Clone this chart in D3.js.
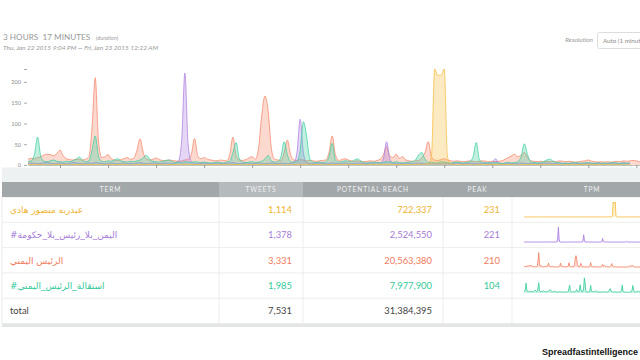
<!DOCTYPE html>
<html>
<head>
<meta charset="utf-8">
<script src="https://cdn.jsdelivr.net/npm/d3@7"></script>
<style>
html, body { margin: 0; padding: 0; background: #fff; }
svg { display: block; font-family: Lato, "Open Sans", "DejaVu Sans", sans-serif; }
</style>
</head>
<body>
<svg id="board" width="640" height="360"></svg>
<script>
// tweets per minute, one value per minute from 9:04 PM (index 0) to 12:22 AM (index 198)
const yellowTpm = [
 1,1,2,1,1,1,0,1,1,2, 1,1,1,0,1,1,1,2,1,1, 1,1,1,1,0,1,1,1,1,2,
 1,1,0,1,1,1,1,1,2,1, 1,1,1,0,1,1,1,1,1,1, 2,1,1,1,1,0,1,1,1,1,
 1,1,2,1,1,1,1,0,1,1, 1,1,1,1,2,1,1,1,1,1, 0,1,1,1,1,1,1,2,1,1,
 1,1,1,0,1,1,1,1,1,1, 2,1,1,1,1,1,0,1,1,1, 1,1,1,2,1,1,1,1,1,1,
 1,1,2,1,2,4,20,231,216,216, 231,20,3,1,1,1,1,1,1,0, 1,1,1,1,1,1,2,1,1,1,
 1,1,1,0,1,1,1,1,1,1, 1,2,1,1,1,1,1,0,1,1, 1,1,1,1,1,2,1,1,1,1,
 1,1,1,1,1,1,0,1,1
];
const purpleTpm = [
 4,5,4,3,4,5,6,4,3,4, 5,4,3,4,6,5,4,3,4,5, 4,6,5,4,3,4,5,4,3,4,
 5,4,4,3,5,6,4,3,4,5, 4,3,4,5,4,3,5,10,60,221, 50,8,4,3,4,5,4,3,4,5,
 4,3,4,5,6,4,3,4,5,4, 3,4,5,4,3,4,5,4,3,5, 4,3,4,6,30,110,30,6,4,3,
 4,5,4,3,4,5,4,3,4,5, 4,3,4,5,4,3,4,5,4,6, 4,15,56,14,5,4,3,4,5,4,
 3,4,5,4,3,4,5,4,3,4, 5,4,3,4,5,4,3,4,5,4, 3,4,5,4,3,6,15,5,3,4,
 5,4,3,4,5,4,3,4,5,4, 3,4,5,4,3,4,5,4,3,4, 5,4,3,4,5,4,3,4,5,4,
 3,4,5,4,3,4,5,4,4
];
const salmonTpm = [
 14,16,15,18,20,24,26,25,22,28, 36,22,15,13,12,14,13,12,14,20, 90,210,60,18,20,25,15,12,11,13,
 15,18,14,16,35,63,30,14,12,14, 17,13,11,10,12,11,10,9,10,12, 14,25,64,22,15,18,14,12,11,10,
 12,11,10,25,67,22,12,11,13,17, 20,14,40,120,166,130,40,14,12,11, 30,60,25,12,11,13,12,10,11,10,
 9,10,11,12,30,70,25,11,13,15, 12,10,9,10,9,8,9,10,9,11, 14,25,45,22,18,26,16,20,12,10,
 9,10,11,18,30,56,20,12,11,13, 15,12,10,9,10,9,8,9,10,9, 8,9,10,9,8,9,8,9,10,14,
 18,22,26,20,24,30,18,10,9,8, 9,8,9,8,9,8,10,9,8,9, 8,7,8,9,10,12,9,8,7,8,
 7,8,7,8,9,8,10,9,10,11, 10,8,9,8,7,8,9,8,9
];
const tealTpm = [
 8,10,25,67,20,9,8,10,12,9, 8,7,9,8,10,14,19,12,8,10, 35,70,22,9,8,10,9,12,15,10,
 8,7,9,8,10,12,18,23,14,9, 8,7,9,11,12,8,6,7,6,8, 7,6,8,7,6,7,6,5,6,7,
 6,5,7,9,30,54,15,7,6,7, 8,6,7,9,15,23,10,7,8,20, 56,25,8,7,9,35,104,70,15,7,
 6,7,6,7,20,52,12,7,8,10, 9,8,12,15,9,6,5,6,7,6, 5,6,8,7,6,8,6,5,6,7,
 8,12,24,30,14,7,6,5,6,8, 7,6,5,6,7,6,5,6,8,20, 54,12,6,5,6,5,6,5,4,5,
 6,5,6,8,20,51,25,8,6,5, 6,8,12,14,9,6,5,4,5,4, 5,6,5,4,5,6,5,4,5,4,
 5,4,5,6,5,4,5,4,5
];

const terms = ["عبدربه منصور هادي", "#اليمن_بلا_رئيس_بلا_حكومة", "الرئيس اليمني", "#استقالة_الرئيس_اليمني"];
const tweets = [1114, 1378, 3331, 1985];
const reach = [722337, 2524550, 20563380, 7977900];
const peaks = [231, 221, 210, 104];
const totalTweets = 7531;
const totalReach = 31384395;

const headers = ["TERM", "TWEETS", "POTENTIAL REACH", "PEAK", "TPM"];
const yTicks = [0, 50, 100, 150, 200, 231];
const xTickMinutes = [10, 25, 40, 55, 70, 85, 100, 115, 130, 145, 160, 175, 190];

const seriesColors = ["#f6bf45", "#ad80e2", "#f5886a", "#3fcfa2"];
const textColors = ["#f0b433", "#a57bd8", "#f07a5c", "#33c99a"];

const svg = d3.select("#board");

// header texts
svg.append("text")
    .attr("x", 3).attr("y", 40)
    .attr("font-size", 8.2).attr("fill", "#999")
    .style("white-space", "pre")
    .text("3 HOURS  17 MINUTES");
svg.append("text")
    .attr("x", 96).attr("y", 40)
    .attr("font-size", 5.6).attr("font-style", "italic").attr("fill", "#a0a0a0")
    .text("(duration)");
svg.append("text")
    .attr("x", 3).attr("y", 50)
    .attr("font-size", 6.5).attr("font-style", "italic").attr("fill", "#999")
    .text("Thu, Jan 22 2015 9:04 PM \u2014 Fri, Jan 23 2015 12:22 AM");

svg.append("text")
    .attr("x", 593).attr("y", 42).attr("text-anchor", "end")
    .attr("font-size", 6.4).attr("font-style", "italic").attr("fill", "#999")
    .text("Resolution");
svg.append("rect")
    .attr("x", 597.5).attr("y", 32.5).attr("width", 50).attr("height", 16)
    .attr("rx", 2).attr("fill", "#fff").attr("stroke", "#ddd");
svg.append("text")
    .attr("x", 603).attr("y", 43)
    .attr("font-size", 6.2).attr("fill", "#8a8a8a")
    .text("Auto (1 minute)");

// main chart
const x = d3.scaleLinear().domain([0, 198]).range([28, 662]);
const y = d3.scaleLinear().domain([0, 231]).range([165, 69]);

const plot = svg.append("g");
const area = d3.area()
    .x((d, i) => x(i))
    .y0(y(0))
    .y1(d => y(d))
    .curve(d3.curveMonotoneX);
const line = d3.line()
    .x((d, i) => x(i))
    .y(d => y(d))
    .curve(d3.curveMonotoneX);

const drawOrder = [2, 1, 3, 0];
drawOrder.forEach(k => {
    const data = [yellowTpm, purpleTpm, salmonTpm, tealTpm][k];
    plot.append("path").datum(data)
        .attr("d", area)
        .attr("fill", seriesColors[k])
        .attr("fill-opacity", 0.32);
    plot.append("path").datum(data)
        .attr("d", line)
        .attr("fill", "none")
        .attr("stroke", seriesColors[k])
        .attr("stroke-opacity", 0.85)
        .attr("stroke-width", 0.9);
});

const yAxis = svg.append("g")
    .attr("transform", "translate(27,0)")
    .call(d3.axisLeft(y).tickValues(yTicks).tickSize(3).tickPadding(3)
        .tickFormat(d => d === 231 ? "" : d));
yAxis.select(".domain").remove();
yAxis.selectAll("line").attr("stroke", "#aaa");
yAxis.selectAll("text").attr("fill", "#8c8c8c").attr("font-size", 5.6)
    .attr("font-family", "Lato, 'Open Sans', sans-serif");

// timeline band under the chart
svg.append("rect")
    .attr("x", 2).attr("y", 167.5).attr("width", 640).attr("height", 14.5)
    .attr("fill", "#edf1f2");

const xAxis = svg.append("g")
    .attr("transform", "translate(0,165)")
    .call(d3.axisBottom(x).tickValues(xTickMinutes).tickSize(3).tickSizeOuter(0).tickFormat(""));
xAxis.select(".domain").attr("stroke", "#a9b4b0").attr("stroke-width", 0.8);
xAxis.selectAll("line").attr("stroke", "#999");

// table
const colEdges = [2, 219, 303, 443, 512, 640];
const headTop = 182, headH = 15, rowTop = 197, rowH = 25.3;
const nRows = terms.length + 1;
const tableBottom = rowTop + nRows * rowH;

svg.append("rect")
    .attr("x", 2).attr("y", tableBottom).attr("width", 640).attr("height", 3.5)
    .attr("fill", "#e3e6e7");
svg.append("rect")
    .attr("x", 2).attr("y", rowTop).attr("width", 640).attr("height", nRows * rowH)
    .attr("fill", "#fff").attr("stroke", "#e6e6e6").attr("stroke-width", 0.8);

svg.append("rect")
    .attr("x", 2).attr("y", headTop).attr("width", 640).attr("height", headH)
    .attr("fill", "#a2a7aa");
svg.append("rect")
    .attr("x", colEdges[1]).attr("y", headTop).attr("width", colEdges[2] - colEdges[1]).attr("height", headH)
    .attr("fill", "#b5babd");

svg.selectAll("text.head").data(headers).enter().append("text")
    .attr("class", "head")
    .attr("x", (d, i) => i === 4 ? 592 : (colEdges[i] + colEdges[i + 1]) / 2)
    .attr("y", headTop + 10.2)
    .attr("text-anchor", "middle")
    .attr("font-size", 6.6)
    .attr("letter-spacing", 0.9)
    .attr("fill", "#eef0f1")
    .text(d => d);

// grid lines
for (let r = 1; r < nRows; r++) {
    svg.append("line")
        .attr("x1", 2).attr("x2", 640)
        .attr("y1", rowTop + r * rowH).attr("y2", rowTop + r * rowH)
        .attr("stroke", "#e8e8e8").attr("stroke-width", 0.8);
}
colEdges.slice(1, 5).forEach(cx => {
    svg.append("line")
        .attr("x1", cx).attr("x2", cx)
        .attr("y1", rowTop).attr("y2", tableBottom)
        .attr("stroke", "#e8e8e8").attr("stroke-width", 0.8);
});

const fmt = d3.format(",");
const rows = svg.selectAll("g.row").data(terms).enter().append("g")
    .attr("class", "row")
    .attr("transform", (d, i) => `translate(0,${rowTop + i * rowH})`);

rows.append("text")
    .attr("x", 10).attr("y", 16)
    .attr("font-size", 9)
    .attr("font-family", "'DejaVu Sans', sans-serif")
    .attr("fill", (d, i) => textColors[i])
    .text(d => d);
rows.append("text")
    .attr("x", 292).attr("y", 16).attr("text-anchor", "end")
    .attr("font-size", 9.4).attr("fill", (d, i) => textColors[i])
    .text((d, i) => fmt(tweets[i]));
rows.append("text")
    .attr("x", 432).attr("y", 16).attr("text-anchor", "end")
    .attr("font-size", 9.4).attr("fill", (d, i) => textColors[i])
    .text((d, i) => fmt(reach[i]));
rows.append("text")
    .attr("x", 500).attr("y", 16).attr("text-anchor", "end")
    .attr("font-size", 9.4).attr("fill", (d, i) => textColors[i])
    .text((d, i) => peaks[i]);

// sparklines
const sx = d3.scaleLinear().domain([0, 198]).range([524, 663]);
[yellowTpm, purpleTpm, salmonTpm, tealTpm].forEach((data, i) => {
    const base = rowTop + (i + 1) * rowH - 5.3;
    const sy = d3.scaleLinear().domain([0, d3.max(data)]).range([base, base - 15]);
    svg.append("path").datum(data)
        .attr("d", d3.area().x((d, j) => sx(j)).y0(base).y1(d => sy(d)))
        .attr("fill", seriesColors[i]).attr("fill-opacity", 0.25);
    svg.append("path").datum(data)
        .attr("d", d3.line().x((d, j) => sx(j)).y(d => sy(d)))
        .attr("fill", "none").attr("stroke", seriesColors[i]).attr("stroke-width", 0.9);
});

// total row
const totalY = rowTop + terms.length * rowH + 16;
svg.append("text").attr("x", 10).attr("y", totalY)
    .attr("font-size", 9.4).attr("fill", "#444").text("total");
svg.append("text").attr("x", 292).attr("y", totalY).attr("text-anchor", "end")
    .attr("font-size", 9.4).attr("fill", "#444").text(fmt(totalTweets));
svg.append("text").attr("x", 432).attr("y", totalY).attr("text-anchor", "end")
    .attr("font-size", 9.4).attr("fill", "#444").text(fmt(totalReach));

// watermark
svg.append("text")
    .attr("x", 638).attr("y", 355).attr("text-anchor", "end")
    .attr("font-size", 9).attr("font-weight", "bold")
    .attr("font-family", "'Liberation Sans Narrow', 'Liberation Sans', sans-serif")
    .attr("textLength", 96).attr("lengthAdjust", "spacingAndGlyphs")
    .attr("fill", "#111").attr("stroke", "#fff").attr("stroke-width", 1.6)
    .attr("paint-order", "stroke")
    .text("Spreadfastintelligence");
</script>
</body>
</html>
